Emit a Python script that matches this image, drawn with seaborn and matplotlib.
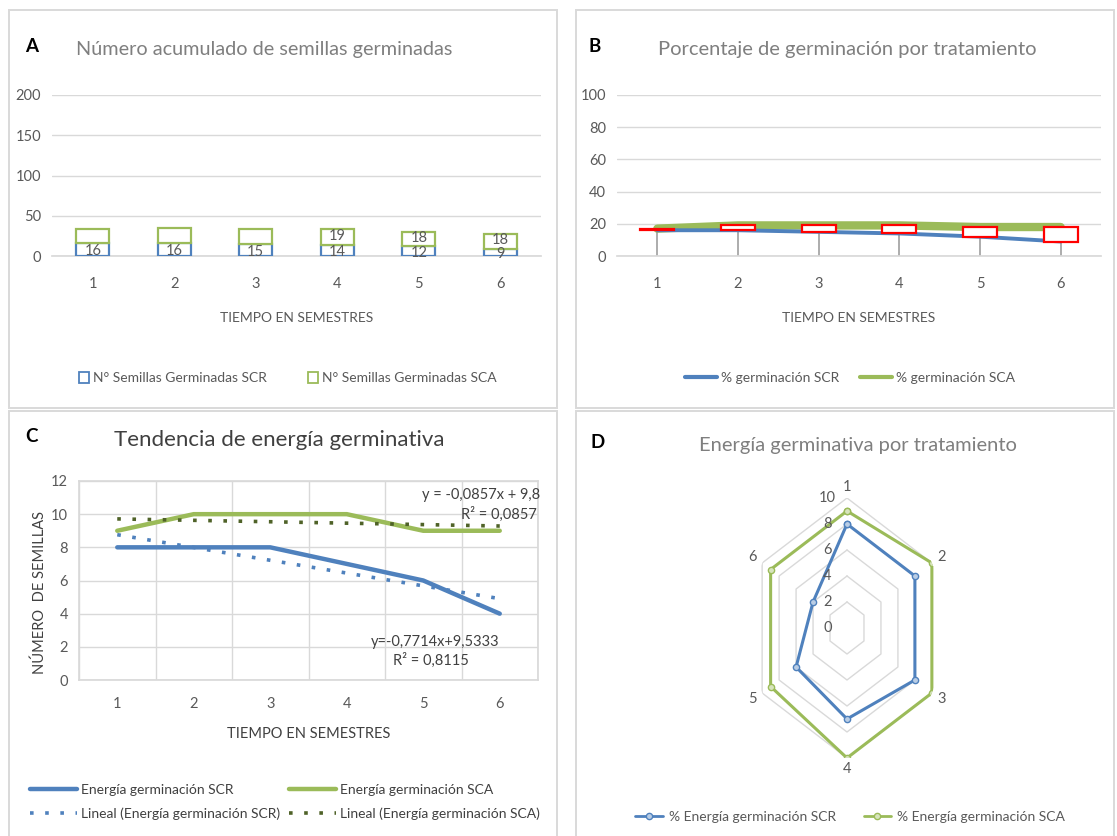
import numpy as np
import pandas as pd
import matplotlib
matplotlib.use("Agg")
import matplotlib.pyplot as plt
import seaborn as sns
from matplotlib.patches import Rectangle
from matplotlib.lines import Line2D

# ---------------- data ----------------
semestres = [1, 2, 3, 4, 5, 6]
acum_scr = [16, 16, 15, 14, 12, 9]
acum_sca = [17, 19, 18, 19, 18, 18]
acum_scr_labels = ["16", "16", "15", "14", "12", "9"]
acum_sca_labels = ["", "", "", "19", "18", "18"]
pct_scr = [16, 16, 15, 14, 12, 9]
pct_sca = [17, 19, 19, 19, 18, 18]
energia_scr = [8, 8, 8, 7, 6, 4]
energia_sca = [9, 10, 10, 10, 9, 9]
radar_scr = [8, 8, 8, 7, 6, 4]
radar_sca = [9, 10, 10, 10, 9, 9]
radar_labels = ["1", "2", "3", "4", "5", "6"]

BLUE = "#4F81BD"
GREEN = "#9BBB59"
DKGREEN = "#4F6228"
RED = "#FF0000"
GRID = "#D9D9D9"
TXT = "#595959"
TITLE = "#7F7F7F"
DARK = "#404040"

sns.set_theme(style="white")
FONT = ["Lato", "DejaVu Sans"]
plt.rcParams["font.family"] = FONT
plt.rcParams["axes.unicode_minus"] = False

W, H = 1117, 836
fig = plt.figure(figsize=(W / 100, H / 100), dpi=100)
fig.patch.set_facecolor("white")


def fx(px):
    return px / W


def fy(py):
    return 1 - py / H


def panel(x0, y0, x1, y1):
    fig.add_artist(Rectangle((fx(x0), fy(y1)), fx(x1 - x0), (y1 - y0) / H,
                             transform=fig.transFigure, fill=False,
                             edgecolor=GRID, lw=1.4))


panel(9, 10, 557, 408)
panel(576, 10, 1114, 408)
panel(9, 411, 557, 850)
panel(576, 411, 1114, 850)

# letters
for letter, (lx, ly) in zip("ABCD", [(32, 46), (595, 46), (31, 437), (598, 442)]):
    fig.text(fx(lx), fy(ly), letter, ha="center", va="center", fontsize=13.5,
             fontweight="bold", color="black")

x = np.array(semestres)


def style_cat_axis(ax, ymax, ystep):
    ax.set_xlim(0.5, 6.5)
    ax.set_ylim(0, ymax)
    ax.set_yticks(np.arange(0, ymax + 1, ystep))
    ax.set_xticks(semestres)
    ax.set_xticklabels([str(s) for s in semestres])
    for s in ["top", "right", "left"]:
        ax.spines[s].set_visible(False)
    ax.spines["bottom"].set_color(GRID)
    ax.grid(axis="y", color=GRID, lw=1)
    ax.set_axisbelow(True)
    ax.tick_params(axis="both", colors=TXT, labelsize=10.5, length=0)
    ax.tick_params(axis="y", pad=8)
    ax.tick_params(axis="x", pad=15)
    ax.set_xlabel("TIEMPO EN SEMESTRES", color=TXT, fontsize=10, labelpad=15)
    ax.set_ylabel("")


# ---------------- Panel A ----------------
axA = fig.add_axes([fx(52), fy(256), fx(489), 161 / H])
axA.bar(x, acum_scr, width=0.4, facecolor="white", edgecolor=BLUE, lw=1.6, zorder=3)
axA.bar(x, acum_sca, bottom=acum_scr, width=0.4, facecolor="white", edgecolor=GREEN,
        lw=1.6, zorder=3)
for xi, s, a, ls, la in zip(x, acum_scr, acum_sca, acum_scr_labels, acum_sca_labels):
    axA.text(xi, s / 2 - 2.2, ls, ha="center", va="center", color=TXT, fontsize=10.5,
             zorder=4)
    if la:
        axA.text(xi, s + a / 2 + 1.5, la, ha="center", va="center", color=TXT,
                 fontsize=10.5, zorder=4)
style_cat_axis(axA, 200, 50)
fig.text(fx(264), fy(50), "Número acumulado de semillas germinadas", ha="center",
         va="center", fontsize=14.3, color=TITLE)
hA = [Rectangle((0, 0), 1, 1, facecolor="white", edgecolor=BLUE, lw=1.3),
      Rectangle((0, 0), 1, 1, facecolor="white", edgecolor=GREEN, lw=1.3)]
fig.legend(hA, ["N° Semillas Germinadas SCR", "N° Semillas Germinadas SCA"],
           loc="center", bbox_to_anchor=(fx(288), fy(378)), ncol=2, frameon=False,
           fontsize=10, labelcolor=TXT, handlelength=0.7, handleheight=0.9,
           handletextpad=0.3, columnspacing=3.0)

# ---------------- Panel B ----------------
axB = fig.add_axes([fx(617), fy(256), fx(484), 161 / H])
dfB = pd.DataFrame({"x": semestres, "scr": pct_scr, "sca": pct_sca})
axB.vlines(x, 0, np.minimum(pct_scr, pct_sca), color="#A6A6A6", lw=1.3, zorder=2)
sns.lineplot(data=dfB, x="x", y="sca", color=GREEN, lw=6, ax=axB, zorder=3)
sns.lineplot(data=dfB, x="x", y="scr", color=BLUE, lw=2.8, ax=axB, zorder=4)
axB.bar(x, np.array(pct_sca) - np.array(pct_scr), bottom=pct_scr, width=0.42,
        facecolor="white", edgecolor=RED, lw=1.6, zorder=5)
style_cat_axis(axB, 100, 20)
fig.text(fx(847), fy(50), "Porcentaje de germinación por tratamiento", ha="center",
         va="center", fontsize=14.5, color=TITLE)
hB = [Line2D([], [], color=BLUE, lw=3), Line2D([], [], color=GREEN, lw=3)]
fig.legend(hB, ["% germinación SCR", "% germinación SCA"], loc="center",
           bbox_to_anchor=(fx(850), fy(378)), ncol=2, frameon=False, fontsize=10,
           labelcolor=TXT, handlelength=2.3, handletextpad=0.3, columnspacing=1.5)

# ---------------- Panel C ----------------
axC = fig.add_axes([fx(79), fy(680), fx(459), 199 / H])
dfC = pd.DataFrame({"x": semestres, "scr": energia_scr, "sca": energia_sca})
sns.lineplot(data=dfC, x="x", y="sca", color=GREEN, lw=3.2, ax=axC, zorder=3)
sns.lineplot(data=dfC, x="x", y="scr", color=BLUE, lw=3.2, ax=axC, zorder=3)
m_scr, b_scr = np.polyfit(semestres, energia_scr, 1)
m_sca, b_sca = np.polyfit(semestres, energia_sca, 1)
r2_scr = np.corrcoef(semestres, energia_scr)[0, 1] ** 2
r2_sca = np.corrcoef(semestres, energia_sca)[0, 1] ** 2
tx = np.array([semestres[0], semestres[-1]])
DOT = (0, (1, 3.2))
axC.plot(tx, m_scr * tx + b_scr, color=BLUE, lw=2.6, ls=DOT, zorder=4)
axC.plot(tx, m_sca * tx + b_sca, color=DKGREEN, lw=2.6, ls=DOT, zorder=4)
axC.set_xlim(0.5, 6.5)
axC.set_ylim(0, 12)
axC.set_yticks(np.arange(0, 13, 2))
axC.set_xticks(semestres)
axC.set_xticks(np.arange(0.5, 6.6, 1), minor=True)
axC.grid(axis="y", which="major", color=GRID, lw=1)
axC.grid(axis="x", which="minor", color=GRID, lw=1)
axC.grid(axis="x", which="major", visible=False)
axC.set_axisbelow(True)
for s in axC.spines.values():
    s.set_color(GRID)
axC.tick_params(axis="both", which="both", colors=TXT, labelsize=10.5, length=0)
axC.tick_params(axis="x", pad=12)
axC.tick_params(axis="y", pad=8)
axC.set_xlabel("TIEMPO EN SEMESTRES", color=DARK, fontsize=10.5, labelpad=12)
axC.set_ylabel("NÚMERO  DE SEMILLAS", color=DARK, fontsize=10.5)
axC.yaxis.set_label_coords(-0.07, 0.44)


def fmt(v, nd):
    s = f"{v:.{nd}f}".rstrip("0").rstrip(".")
    return s.replace(".", ",")


axC.text(6.53, 11.16, f"y = {fmt(m_sca, 4)}x + {fmt(b_sca, 4)}", ha="right", va="center",
         color=DARK, fontsize=10.5)
axC.text(6.48, 10.0, f"R² = {fmt(r2_sca, 4)}", ha="right", va="center",
         color=DARK, fontsize=10.5)
axC.text(5.15, 2.29, f"y={fmt(m_scr, 4)}x+{fmt(b_scr, 4)}", ha="center", va="center",
         color=DARK, fontsize=10.5)
axC.text(5.1, 1.2, f"R² = {fmt(r2_scr, 4)}", ha="center", va="center",
         color=DARK, fontsize=10.5)
fig.text(fx(279), fy(440), "Tendencia de energía germinativa", ha="center", va="center",
         fontsize=16, color=DARK)
hC = [Line2D([], [], color=BLUE, lw=3.2),
      Line2D([], [], color=BLUE, lw=2.6, ls=DOT),
      Line2D([], [], color=GREEN, lw=3.2),
      Line2D([], [], color=DKGREEN, lw=2.6, ls=DOT)]
fig.legend(hC, ["Energía germinación SCR", "Lineal (Energía germinación SCR)",
                "Energía germinación SCA", "Lineal (Energía germinación SCA)"],
           loc="center", bbox_to_anchor=(fx(285), fy(802)), ncol=2, frameon=False,
           fontsize=10, labelcolor=DARK, handlelength=3.4, handletextpad=0.3,
           columnspacing=0.6, labelspacing=0.85)

# ---------------- Panel D ----------------
axD = fig.add_axes([fx(749), fy(758), fx(196), 260 / H], projection="polar")
axD.set_aspect("auto")
axD.set_theta_zero_location("N")
axD.set_theta_direction(-1)
n = len(radar_labels)
ang = np.linspace(0, 2 * np.pi, n, endpoint=False)
ang_c = np.append(ang, ang[0])
axD.grid(False)
axD.spines["polar"].set_visible(False)
for r in [2, 4, 6, 8, 10]:
    axD.plot(ang_c, [r] * (n + 1), color=GRID, lw=1, zorder=1)
sca_c = radar_sca + radar_sca[:1]
scr_c = radar_scr + radar_scr[:1]
axD.plot(ang_c, sca_c, color=GREEN, lw=2.2, marker="o", ms=4.5, mfc="#D7E4BD",
         mec=GREEN, mew=1, zorder=3)
axD.plot(ang_c, scr_c, color=BLUE, lw=2.2, marker="o", ms=4.5, mfc="#B9CDE5",
         mec=BLUE, mew=1, zorder=4)
axD.set_ylim(0, 10)
axD.set_yticks([])
axD.set_xticks(ang)
axD.set_xticklabels(radar_labels)
axD.tick_params(axis="x", colors=TXT, labelsize=10.5, pad=-5)
for r in [0, 2, 4, 6, 8, 10]:
    axD.annotate(str(r), xy=(0, r), xytext=(-14, 0), textcoords="offset points",
                 ha="center", va="center", color=TXT, fontsize=10.5, zorder=5)
axD.set_facecolor("none")
fig.text(fx(858), fy(445), "Energía germinativa por tratamiento", ha="center",
         va="center", fontsize=14.5, color=TITLE)
hD = [Line2D([], [], color=BLUE, lw=2, marker="o", ms=4.5, mfc="#B9CDE5", mec=BLUE),
      Line2D([], [], color=GREEN, lw=2, marker="o", ms=4.5, mfc="#D7E4BD", mec=GREEN)]
fig.legend(hD, ["% Energía germinación SCR", "% Energía germinación SCA"], loc="center",
           bbox_to_anchor=(fx(850), fy(817)), ncol=2, frameon=False, fontsize=10,
           labelcolor=TXT, handlelength=2.0, handletextpad=0.4, columnspacing=2.0)

fig.savefig("out.png", dpi=100, facecolor="white")
